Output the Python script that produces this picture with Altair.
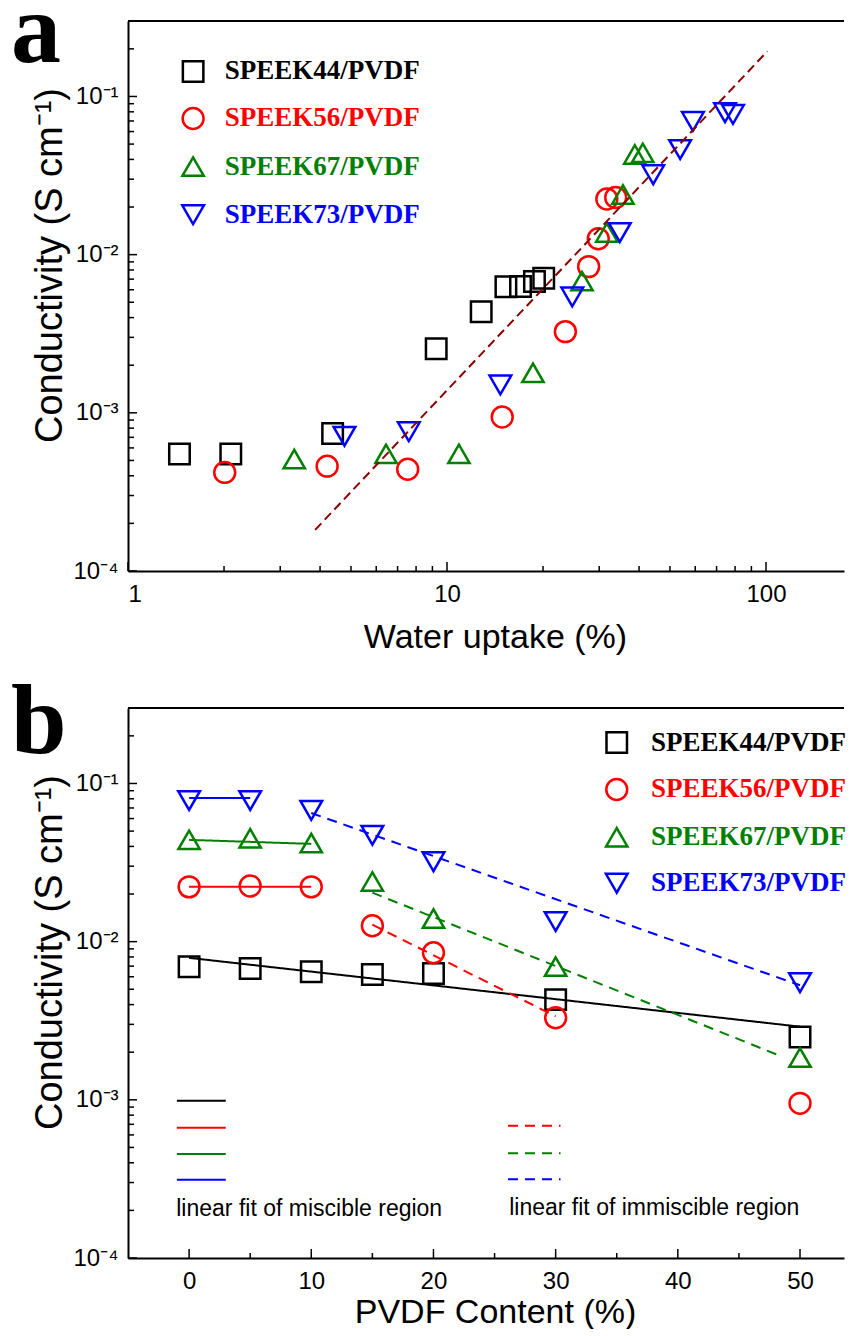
import altair as alt
import pandas as pd

SERIES = ["SPEEK44/PVDF", "SPEEK56/PVDF", "SPEEK67/PVDF", "SPEEK73/PVDF"]
COLORS = ["#000000", "#ff0000", "#008000", "#0000ff"]
SHAPES = ["square", "circle", "triangle-up", "triangle-down"]
SIZES = [420, 470, 700, 700]

# ---------------- panel a : conductivity vs water uptake ----------------
wu44 = [1.45, 2.1, 4.38, 9.25, 12.8, 15.3, 17.0, 18.8, 20.1]
ca44 = [5.5e-4, 5.5e-4, 7.4e-4, 2.54e-3, 4.36e-3, 6.27e-3, 6.3e-3, 6.76e-3, 7.1e-3]
wu56 = [2.01, 4.21, 7.53, 14.9, 23.5, 27.8, 29.8, 31.7, 33.8]
ca56 = [4.2e-4, 4.6e-4, 4.4e-4, 9.4e-4, 3.26e-3, 8.4e-3, 1.26e-2, 2.25e-2, 2.3e-2]
wu67 = [3.32, 6.44, 10.9, 18.6, 26.5, 31.7, 35.6, 38.8, 41.1]
ca67 = [5.1e-4, 5.5e-4, 5.5e-4, 1.79e-3, 6.8e-3, 1.38e-2, 2.4e-2, 4.3e-2, 4.4e-2]
wu73 = [4.77, 7.59, 14.7, 24.7, 34.8, 44.3, 53.8, 59.0, 74.4, 78.8]
ca73 = [7.1e-4, 7.6e-4, 1.5e-3, 5.4e-3, 1.38e-2, 3.2e-2, 4.62e-2, 6.95e-2, 7.9e-2, 7.7e-2]

fit_a_x = [3.86, 101.0]
fit_a_y = [1.82e-4, 0.193]

leg_a_mark_x = 1.6
leg_a_text_x = 2.01
leg_a_y = [0.144, 0.0726, 0.036, 0.0179]

# ---------------- panel b : conductivity vs PVDF content ----------------
pvdf = [0, 5, 10, 15, 20, 30, 50]
cb44 = [6.95e-3, 6.76e-3, 6.45e-3, 6.2e-3, 6.3e-3, 4.3e-3, 2.5e-3]
cb56 = [2.22e-2, 2.25e-2, 2.22e-2, 1.26e-2, 8.5e-3, 3.3e-3, 9.5e-4]
cb67 = [4.4e-2, 4.5e-2, 4.2e-2, 2.4e-2, 1.4e-2, 6.95e-3, 1.85e-3]
cb73 = [7.8e-2, 7.8e-2, 6.76e-2, 4.7e-2, 3.2e-2, 1.34e-2, 5.5e-3]

fit_series = SERIES + SERIES[1:]
fit_style = ["miscible"] * 4 + ["immiscible"] * 3
fit_x0 = [0, 0, 0, 0, 15, 15, 10]
fit_y0 = [7.9e-3, 2.22e-2, 4.4e-2, 8.1e-2, 1.28e-2, 2.04e-2, 6.5e-2]
fit_x1 = [50, 10, 10, 5, 30, 48.5, 50]
fit_y1 = [2.9e-3, 2.22e-2, 4.15e-2, 8.1e-2, 3.37e-3, 1.88e-3, 5.3e-3]

key_series = SERIES + SERIES[1:]
key_style = ["miscible"] * 4 + ["immiscible"] * 3
key_x0 = [-1.0, -1.0, -1.0, -1.0, 26.1, 26.1, 26.1]
key_x1 = [3.0, 3.0, 3.0, 3.0, 30.4, 30.4, 30.4]
key_y = [9.85e-4, 6.65e-4, 4.55e-4, 3.12e-4, 6.85e-4, 4.6e-4, 3.15e-4]
key_text = ["linear fit of miscible region", "linear fit of immiscible region"]
key_text_x = [-1.05, 26.2]
key_text_y = [2.04e-4, 2.08e-4]

leg_b_mark_x = 35.0
leg_b_text_x = 37.8
leg_b_y = [0.1815, 0.0916, 0.0457, 0.0234]

# ---------------- axes ----------------
Y_DOMAIN = [1e-4, 0.3]
Y_TICKS = [1e-4, 1e-3, 1e-2, 1e-1]
Y_TICK_LABELS = ["10\u207b\u2074", "10\u207b\u00b3", "10\u207b\u00b2", "10\u207b\u00b9"]
Y_MINOR = [k * 10.0 ** e for e in (-4, -3, -2) for k in range(2, 10)] + [0.2, 0.3]
XA_DOMAIN = [1, 175.6]
XA_TICKS = [1, 10, 100]
XA_MINOR = [k * 10.0 ** e for e in (0, 1) for k in range(2, 10)]
XB_DOMAIN = [-5, 53.6]
XB_TICKS = [0, 10, 20, 30, 40, 50]
XB_MINOR = [5, 15, 25, 35, 45]

W, H = 716, 550
SANS = "Liberation Sans"
SERIF = "Liberation Serif"

y_label_expr = " : ".join(
    f"abs(log(datum.value)/log(10) - ({e})) < 0.01 ? '{lab}'"
    for e, lab in zip([-4, -3, -2, -1], Y_TICK_LABELS)
) + " : ''"

color_scale = alt.Scale(domain=SERIES, range=COLORS)
shape_scale = alt.Scale(domain=SERIES, range=SHAPES)
size_scale = alt.Scale(domain=SERIES, range=SIZES)
dash_scale = alt.Scale(domain=["miscible", "immiscible"], range=[[1, 0], [10, 7]])
y_scale = alt.Scale(type="log", domain=Y_DOMAIN, nice=False)

Y_AXIS = alt.Axis(values=Y_TICKS, labelExpr=y_label_expr, title="Conductivity (S cm\u207b\u00b9)",
                  titleX=-78, titleY=244, titleBaseline="middle", titleFontSize=38,
                  titleFont=SANS, titleFontWeight="normal", ticks=False, grid=False,
                  labelPadding=10, labelFontSize=24, labelFont=SANS, domainWidth=2,
                  domainColor="black", labelColor="black", titleColor="black")


def x_axis(values, title, ty):
    return alt.Axis(values=values, format="d", title=title, titleX=367, titleY=ty,
                    titleBaseline="alphabetic", titleFontSize=34, titleFont=SANS,
                    titleFontWeight="normal", ticks=False, grid=False, labelPadding=11,
                    labelFontSize=24, labelFont=SANS, domainWidth=2, domainColor="black",
                    labelColor="black", titleColor="black")


def build_panel(x_scale, x_ax, point_df, x_major, x_minor, leg_mx, leg_tx, leg_y, letter,
                letter_y, extra):
    X = lambda f: alt.X(f, scale=x_scale, axis=x_ax)
    Y = lambda f: alt.Y(f, scale=y_scale, axis=Y_AXIS)

    pts = alt.Chart(point_df).mark_point(filled=False, strokeWidth=2.5, opacity=1).encode(
        x=X("x:Q"), y=Y("y:Q"),
        color=alt.Color("series:N", scale=color_scale, legend=None),
        shape=alt.Shape("series:N", scale=shape_scale, legend=None),
        size=alt.Size("series:N", scale=size_scale, legend=None),
    )
    dfm = pd.DataFrame({"series": SERIES, "x": [leg_mx] * 4, "y": leg_y})
    dft = pd.DataFrame({"series": SERIES, "x": [leg_tx] * 4, "y": leg_y})
    leg_m = alt.Chart(dfm).mark_point(filled=False, strokeWidth=2.5, opacity=1).encode(
        x=X("x:Q"), y=Y("y:Q"),
        color=alt.Color("series:N", scale=color_scale, legend=None),
        shape=alt.Shape("series:N", scale=shape_scale, legend=None),
        size=alt.Size("series:N", scale=size_scale, legend=None),
    )
    leg_t = alt.Chart(dft).mark_text(align="left", baseline="middle", font=SERIF,
                                     fontWeight="bold", fontSize=27).encode(
        x=X("x:Q"), y=Y("y:Q"), text="series:N",
        color=alt.Color("series:N", scale=color_scale, legend=None),
    )
    ticks = [
        alt.Chart(pd.DataFrame({"v": Y_TICKS})).mark_rule(color="black", strokeWidth=1.5).encode(
            y=Y("v:Q"), x=alt.value(0), x2=alt.value(9)),
        alt.Chart(pd.DataFrame({"v": Y_MINOR})).mark_rule(color="black", strokeWidth=1.5).encode(
            y=Y("v:Q"), x=alt.value(0), x2=alt.value(6)),
        alt.Chart(pd.DataFrame({"v": x_major})).mark_rule(color="black", strokeWidth=1.5).encode(
            x=X("v:Q"), y=alt.value(H), y2=alt.value(H - 9)),
        alt.Chart(pd.DataFrame({"v": x_minor})).mark_rule(color="black", strokeWidth=1.5).encode(
            x=X("v:Q"), y=alt.value(H), y2=alt.value(H - 5)),
        alt.Chart(pd.DataFrame({"v": [0]})).mark_rule(color="black", strokeWidth=2).encode(
            x=alt.value(0), x2=alt.value(W), y=alt.value(0)),
    ]
    label = alt.Chart(pd.DataFrame({"t": [letter]})).mark_text(
        align="left", baseline="alphabetic", font=SERIF, fontWeight="bold", fontSize=100,
        color="black").encode(x=alt.value(-117), y=alt.value(letter_y), text="t:N")
    return alt.layer(pts, *[e(X, Y) for e in extra], leg_m, leg_t, *ticks, label).properties(
        width=W, height=H)


# ---- panel a ----
xa_scale = alt.Scale(type="log", domain=XA_DOMAIN, nice=False)
rows = []
for s, xs, ys in zip(SERIES, [wu44, wu56, wu67, wu73], [ca44, ca56, ca67, ca73]):
    rows += [{"series": s, "x": a, "y": b} for a, b in zip(xs, ys)]
df_a = pd.DataFrame(rows)


def fit_a_layer(X, Y):
    return alt.Chart(pd.DataFrame({"x": fit_a_x, "y": fit_a_y})).mark_line(
        color="#8b0000", strokeWidth=2, strokeDash=[9, 5]).encode(x=X("x:Q"), y=Y("y:Q"))


panel_a = build_panel(xa_scale, x_axis(XA_TICKS, "Water uptake (%)", 76), df_a, XA_TICKS,
                      XA_MINOR, leg_a_mark_x, leg_a_text_x, leg_a_y, "a", 41, [fit_a_layer])

# ---- panel b ----
xb_scale = alt.Scale(domain=XB_DOMAIN, nice=False, zero=False)
rows = []
for s, ys in zip(SERIES, [cb44, cb56, cb67, cb73]):
    rows += [{"series": s, "x": a, "y": b} for a, b in zip(pvdf, ys)]
df_b = pd.DataFrame(rows)

seg_rows = []
k = 0
for s, st, x0, y0, x1, y1 in zip(fit_series, fit_style, fit_x0, fit_y0, fit_x1, fit_y1):
    seg_rows += [{"seg": k, "series": s, "style": st, "x": x0, "y": y0},
                 {"seg": k, "series": s, "style": st, "x": x1, "y": y1}]
    k += 1
for s, st, x0, x1, yy in zip(key_series, key_style, key_x0, key_x1, key_y):
    seg_rows += [{"seg": k, "series": s, "style": st, "x": x0, "y": yy},
                 {"seg": k, "series": s, "style": st, "x": x1, "y": yy}]
    k += 1
df_seg = pd.DataFrame(seg_rows)


def lines_b_layer(X, Y):
    return alt.Chart(df_seg).mark_line(strokeWidth=2).encode(
        x=X("x:Q"), y=Y("y:Q"),
        color=alt.Color("series:N", scale=color_scale, legend=None),
        strokeDash=alt.StrokeDash("style:N", scale=dash_scale, legend=None),
        detail="seg:N",
    )


def key_text_layer(X, Y):
    return alt.Chart(pd.DataFrame({"t": key_text, "x": key_text_x, "y": key_text_y})).mark_text(
        align="left", baseline="middle", font=SANS, fontSize=23, color="black").encode(
        x=X("x:Q"), y=Y("y:Q"), text="t:N")


panel_b = build_panel(xb_scale, x_axis(XB_TICKS, "PVDF Content (%)", 64), df_b, XB_TICKS,
                      XB_MINOR, leg_b_mark_x, leg_b_text_x, leg_b_y, "b", 45,
                      [lines_b_layer, key_text_layer])

chart = alt.vconcat(panel_a, panel_b, spacing=137, bounds="flush").properties(
    padding={"left": 3, "top": -26, "right": 0, "bottom": 0}, background="white"
).configure_view(stroke=None)

chart.save("out.html", embed_options={"renderer": "svg", "actions": False})
